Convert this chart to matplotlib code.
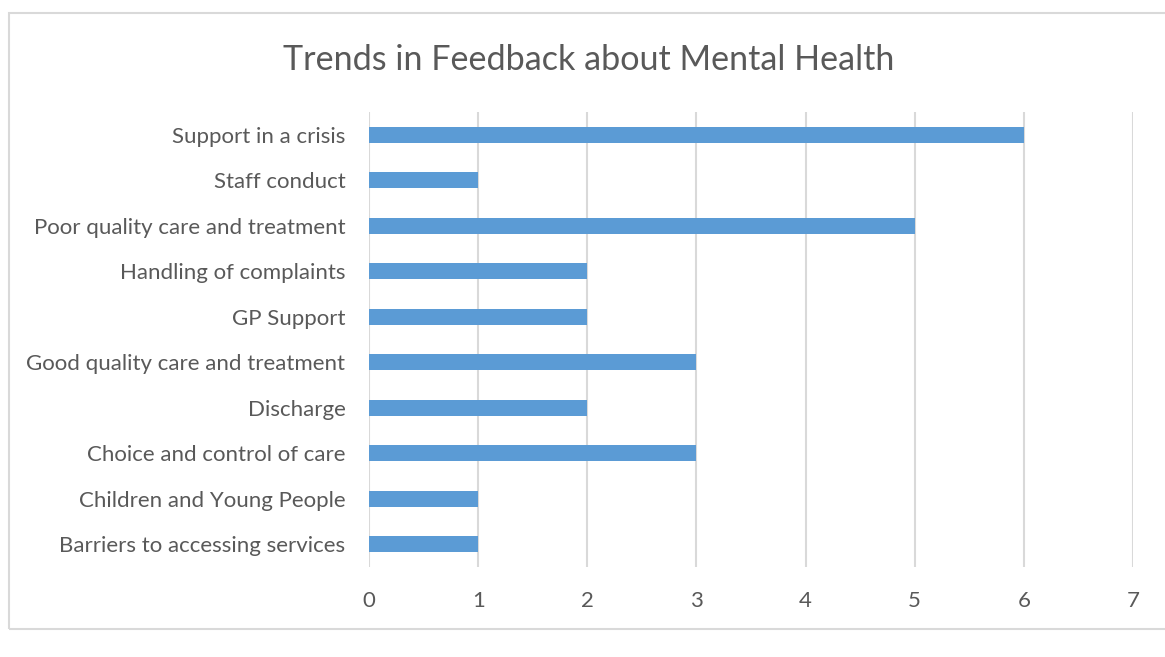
import matplotlib.pyplot as plt
from matplotlib.patches import Rectangle

categories = [
    "Barriers to accessing services",
    "Children and Young People",
    "Choice and control of care",
    "Discharge",
    "Good quality care and treatment",
    "GP Support",
    "Handling of complaints",
    "Poor quality care and treatment",
    "Staff conduct",
    "Support in a crisis",
]
counts = [1, 1, 3, 2, 3, 2, 2, 5, 1, 6]
xticks = [0, 1, 2, 3, 4, 5, 6, 7]

plt.rcParams["font.family"] = ["Lato", "DejaVu Sans"]
text_color = "#595959"
grid_color = "#D9D9D9"

fig = plt.figure(figsize=(11.65, 6.57), dpi=100)

# outer chart border
fig.patches.append(Rectangle((9 / 1165, 1 - 629 / 657), 1160 / 1165, 616 / 657,
                             transform=fig.transFigure, fill=False,
                             edgecolor=grid_color, linewidth=1.5))

ax = fig.add_axes([369 / 1165, 1 - 567 / 657, 764 / 1165, 455 / 657])
ax.barh(range(len(categories)), counts, height=0.35, color="#5B9BD5", zorder=3)

ax.set_xlim(0, 7)
ax.set_ylim(-0.5, len(categories) - 0.5)
ax.set_xticks(xticks)
ax.set_yticks(range(len(categories)))
ax.set_yticklabels(categories)
ax.grid(axis="x", color=grid_color, linewidth=1.5, zorder=0)
for s in ax.spines.values():
    s.set_visible(False)
ax.tick_params(length=0, labelsize=16, colors=text_color)
ax.tick_params(axis="x", pad=17)
ax.tick_params(axis="y", pad=17)

fig.text(589 / 1165, 1 - 60 / 657, "Trends in Feedback about Mental Health",
         ha="center", va="center", fontsize=24.6, color=text_color)

plt.savefig("out.png", dpi=100)
